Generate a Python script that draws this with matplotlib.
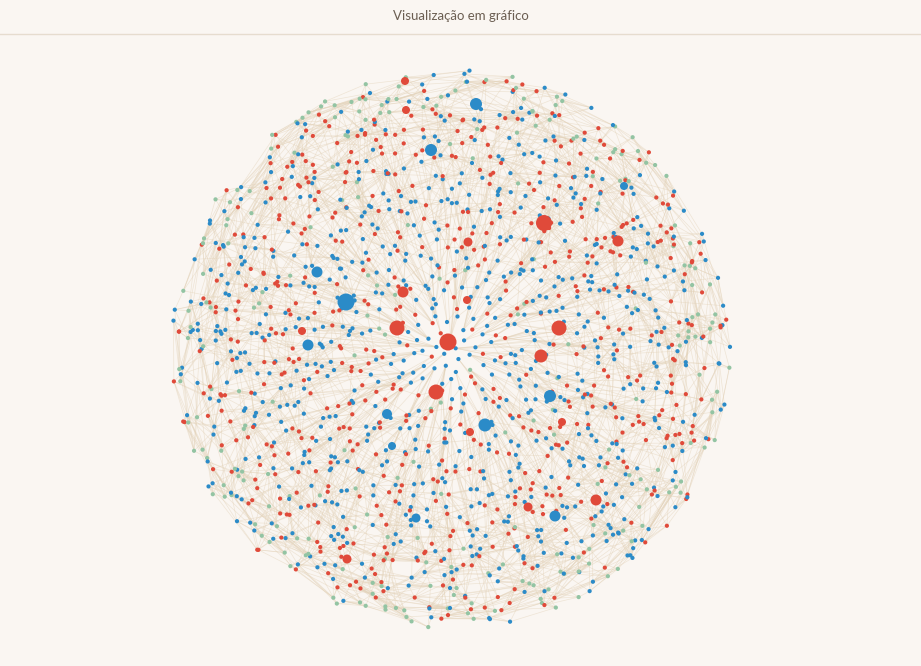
import numpy as np
import matplotlib
matplotlib.use("Agg")
import matplotlib.pyplot as plt
from matplotlib.collections import LineCollection

W, H = 921, 666
BG = "#faf6f2"
COLORS = {"a": "#e04a3a", "b": "#2b8bc8", "c": "#93c4a3"}
TITLE = "Visualização em gráfico"

# Prominent (hub) nodes: x, y (pixels), radius (px), group
hub_x = [346, 448, 544, 397, 559, 436, 431, 476, 317, 308, 541, 485, 550, 403, 468,
         618, 387, 555, 596, 528, 416, 347, 405, 406, 302, 467, 562, 392, 624, 470]
hub_y = [302, 342, 223, 328, 328, 392, 150, 104, 272, 345, 356, 425, 396, 292, 242,
         241, 414, 516, 500, 507, 518, 559, 81, 110, 331, 300, 422, 446, 186, 432]
hub_r = [8.5, 8.5, 8, 7.5, 7.5, 7.5, 6, 6, 5.5, 5.5, 6.5, 6.5, 6, 5.5, 4.5,
         5.5, 5, 5.5, 5.5, 4.5, 4.5, 4.5, 4, 4, 4, 4, 4, 4, 4, 4]
hub_g = ["b", "a", "a", "a", "a", "a", "b", "b", "b", "b", "a", "b", "b", "a", "a",
         "a", "b", "b", "a", "a", "b", "a", "a", "a", "a", "a", "a", "b", "b", "a"]

# Small nodes: approximate count, circle extent and group shares
n_small = 1650
center_x, center_y, radius = 451, 349, 279
share_blue, share_red = 0.50, 0.40

fig = plt.figure(figsize=(W / 100, H / 100), dpi=100, facecolor=BG)
ax = fig.add_axes([0, 0, 1, 1])
ax.set_facecolor(BG)
ax.set_xlim(0, W)
ax.set_ylim(H, 0)
ax.axis("off")

idx = np.arange(n_small)
u = (np.sin(idx * 12.9898) * 43758.5453) % 1.0
v = (np.sin(idx * 78.233) * 24634.6345) % 1.0
t = (np.sin(idx * 39.3468 + 1.7) * 13758.937) % 1.0
ang = idx * np.pi * (3 - np.sqrt(5)) + (u - 0.5) * 0.3
rr = radius * np.sqrt((idx + 0.5) / n_small) * (1 + (v - 0.5) * 0.06)
rr = np.minimum(rr, radius)
sx = center_x + rr * np.cos(ang)
sy = center_y + rr * np.sin(ang)
outer = rr / radius
sg = np.where(t < share_blue, "b", np.where(t < share_blue + share_red, "a", "c"))
sg = np.where((outer > 0.85) & (u < 0.3), "c", sg)
sg = np.where((outer < 0.6) & (sg == "c") & (v < 0.6), "b", sg)

segs = []
for step in (21, 55, 89, 144, 233, 377, 610):
    stride = 1 if step < 100 else 2
    for i in range(0, n_small - step, stride):
        segs.append([(sx[i], sy[i]), (sx[i + step], sy[i + step])])
ax.add_collection(LineCollection(segs, colors="#e3d2b8", linewidths=0.5, alpha=0.5, zorder=1))

ax.scatter(sx, sy, s=(2 * 2.1 * 0.72) ** 2, c=[COLORS[g] for g in sg], linewidths=0, zorder=2)
ax.scatter(hub_x, hub_y, s=[(2 * r * 0.72) ** 2 for r in hub_r],
           c=[COLORS[g] for g in hub_g], linewidths=0, zorder=3)

ax.text(W / 2, 16, TITLE, ha="center", va="center", fontsize=9.5, color="#6b5e52",
        family="Lato")
ax.plot([0, W], [33.5, 33.5], color="#e6dccf", lw=1)

fig.savefig("out.png", dpi=100, facecolor=BG)
